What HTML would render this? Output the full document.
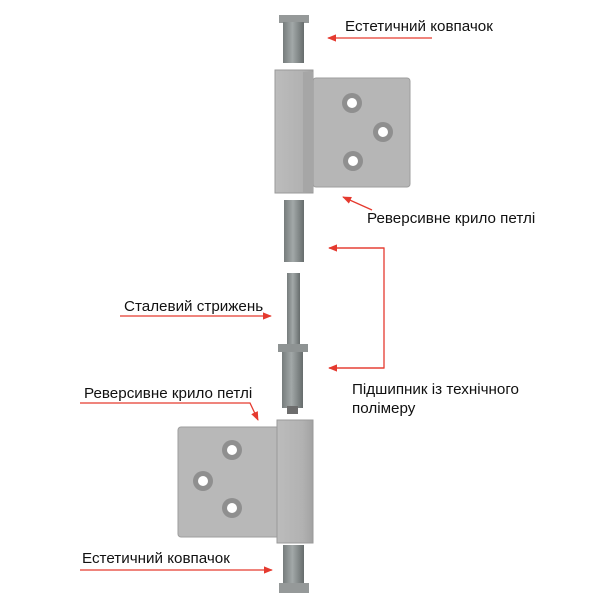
<!DOCTYPE html>
<html><head><meta charset="utf-8"><style>
body{margin:0;background:#fff}
svg{display:block}
text{font-family:"Liberation Sans","DejaVu Sans",sans-serif;font-size:15.2px;fill:#111}
</style></head><body>
<svg width="600" height="600" viewBox="0 0 600 600">
<defs>
<linearGradient id="cyl" x1="0" x2="1"><stop offset="0" stop-color="#767c7c"/><stop offset=".45" stop-color="#a2a8a8"/><stop offset="1" stop-color="#666c6c"/></linearGradient>
<linearGradient id="kn" x1="0" x2="1"><stop offset="0" stop-color="#bcbcbc"/><stop offset=".7" stop-color="#b2b2b2"/><stop offset="1" stop-color="#a2a2a2"/></linearGradient>
<marker id="ah" viewBox="0 0 10 10" refX="9" refY="5" markerWidth="7" markerHeight="7" orient="auto-start-reverse"><path d="M0,1 L10,5 L0,9 z" fill="#e53a2f"/></marker>
</defs>
<rect x="279" y="15" width="30" height="8" fill="#959999"/>
<rect x="283" y="22" width="21" height="41" fill="url(#cyl)"/>
<rect x="313" y="78" width="97" height="109" rx="3" fill="#b6b6b6" stroke="#9e9e9e" stroke-width="1"/>
<rect x="275" y="70" width="38" height="123" fill="url(#kn)" stroke="#9a9a9a"/>
<rect x="303" y="72" width="10" height="120" fill="#a6a6a6"/>
<g fill="#8f8f8f"><circle cx="352" cy="103" r="10"/><circle cx="383" cy="132" r="10"/><circle cx="353" cy="161" r="10"/></g>
<g fill="#fff"><circle cx="352" cy="103" r="5"/><circle cx="383" cy="132" r="5"/><circle cx="353" cy="161" r="5"/></g>
<rect x="284" y="200" width="20" height="62" fill="url(#cyl)"/>
<rect x="287" y="273" width="13" height="72" fill="url(#cyl)"/>
<rect x="278" y="344" width="30" height="8" fill="#8e9393"/>
<rect x="282" y="352" width="21" height="56" fill="url(#cyl)"/>
<rect x="287" y="406" width="11" height="8" fill="#6d6d6d"/>
<rect x="178" y="427" width="102" height="110" rx="3" fill="#b8b8b8" stroke="#9e9e9e"/>
<rect x="277" y="420" width="36" height="123" fill="url(#kn)" stroke="#9a9a9a"/>
<g fill="#8f8f8f"><circle cx="232" cy="450" r="10"/><circle cx="203" cy="481" r="10"/><circle cx="232" cy="508" r="10"/></g>
<g fill="#fff"><circle cx="232" cy="450" r="5"/><circle cx="203" cy="481" r="5"/><circle cx="232" cy="508" r="5"/></g>
<rect x="283" y="545" width="21" height="39" fill="url(#cyl)"/>
<rect x="279" y="583" width="30" height="10" fill="#959999"/>
<g stroke="#e53a2f" stroke-width="1.3" fill="none">
<line x1="432" y1="38" x2="328" y2="38" marker-end="url(#ah)"/>
<line x1="372" y1="210" x2="343" y2="197" marker-end="url(#ah)"/>
<polyline points="329,248 384,248 384,368 329,368"/>
<line x1="384" y1="248" x2="329" y2="248" marker-end="url(#ah)"/>
<line x1="384" y1="368" x2="329" y2="368" marker-end="url(#ah)"/>
<line x1="120" y1="316" x2="271" y2="316" marker-end="url(#ah)"/>
<polyline points="80,403 250,403 258,420" marker-end="url(#ah)"/>
<line x1="80" y1="570" x2="272" y2="570" marker-end="url(#ah)"/>
</g>
<text x="345" y="31">Естетичний ковпачок</text>
<text x="367" y="223">Реверсивне крило петлі</text>
<text x="352" y="394">Підшипник із технічного</text>
<text x="352" y="413">полімеру</text>
<text x="124" y="311">Сталевий стрижень</text>
<text x="84" y="398">Реверсивне крило петлі</text>
<text x="82" y="563">Естетичний ковпачок</text>
</svg>
</body></html>
